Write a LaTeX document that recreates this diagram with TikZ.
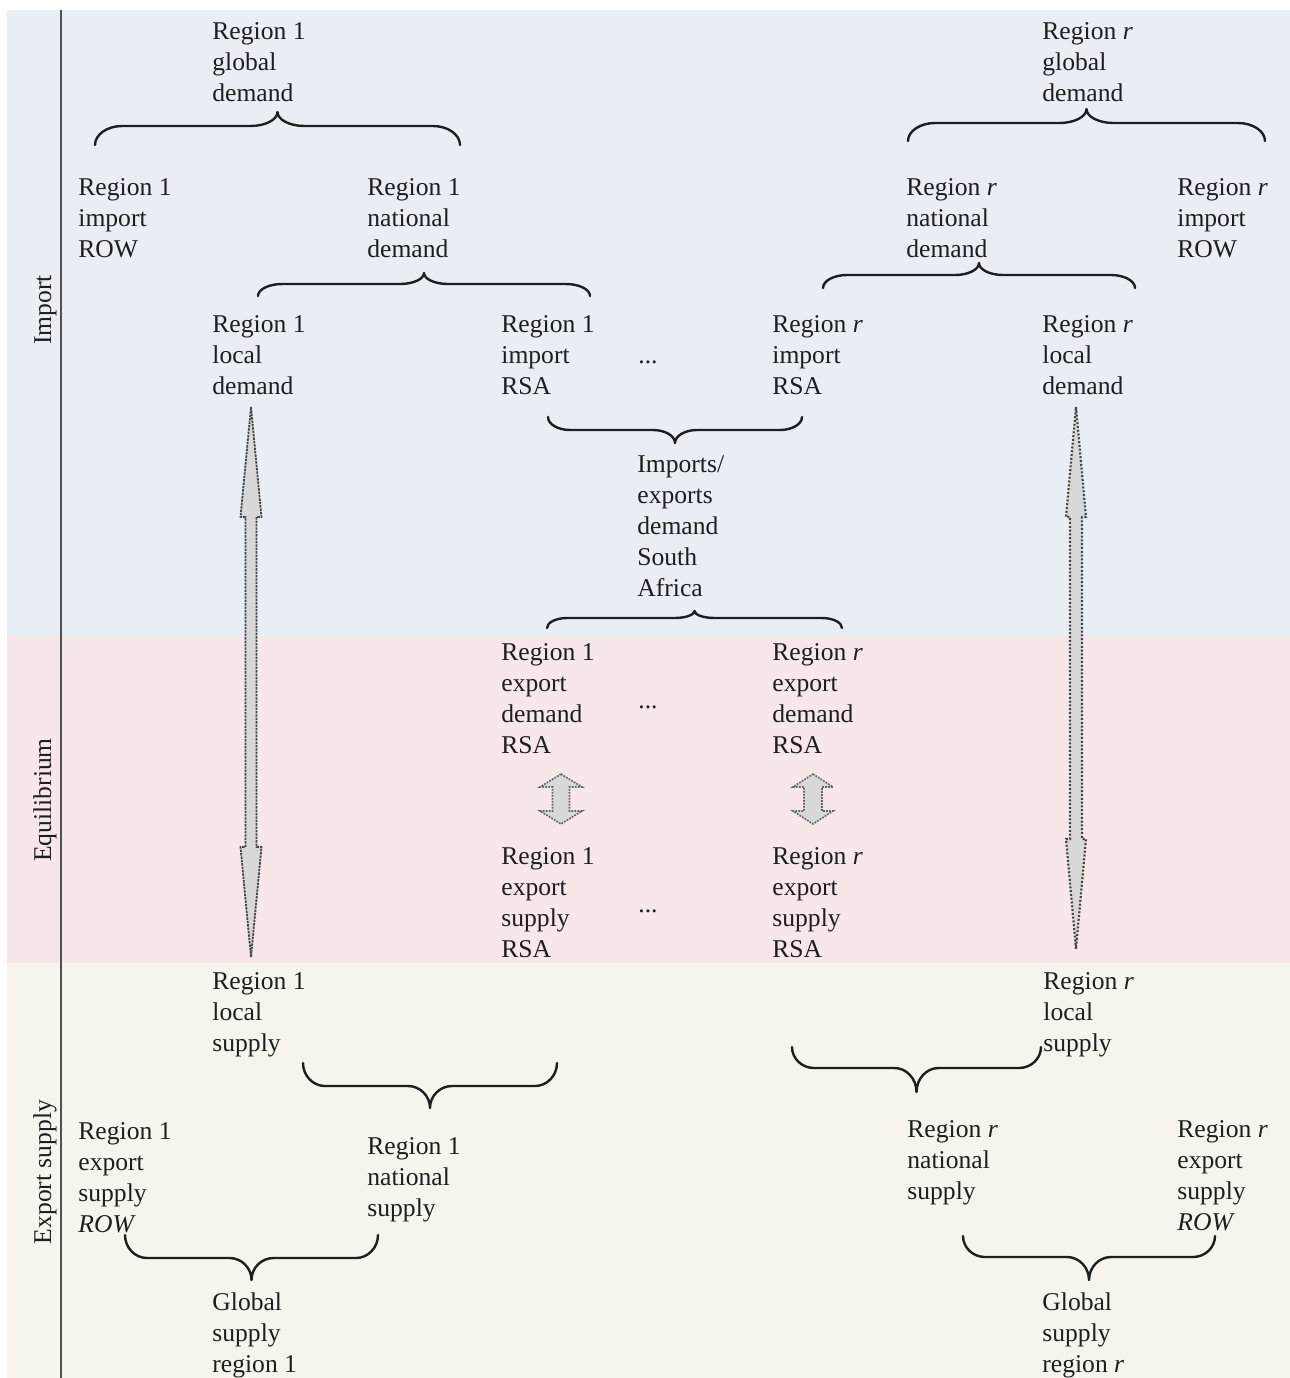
\documentclass[tikz,border=0pt]{standalone}
\usepackage{fontspec}
\setmainfont{Liberation Serif}
\usetikzlibrary{calc}
\definecolor{bandblue}{RGB}{233,238,245}
\definecolor{bandpink}{RGB}{247,231,232}
\definecolor{bandbeige}{RGB}{246,244,236}
\definecolor{ink}{RGB}{30,30,30}
\definecolor{axisgray}{RGB}{80,80,80}
\definecolor{arrfill}{RGB}{216,216,216}
\definecolor{arrline}{RGB}{70,70,70}
\newcommand\DblArrow[6]{%
  \draw[#6] (#1) -- ($(#1)+(#4,#3)$) -- ($(#1)+(#5,#3)$) -- ($(#2)+(#5,-#3)$) -- ($(#2)+(#4,-#3)$) -- (#2)
    -- ($(#2)+(-#4,-#3)$) -- ($(#2)+(-#5,-#3)$) -- ($(#1)+(-#5,#3)$) -- ($(#1)+(-#4,#3)$) -- cycle;}
% #1 left end, #2 right end, #3 depth of the line (signed), #4 extra depth of the tip (signed), #5 curl width
\newcommand\MyBrace[5]{%
  \coordinate (#1#2m) at ($(#1)!0.5!(#2)$);
  \draw[brcline] (#1) .. controls ($(#1)+(0,{0.55*(#3)})$) and ($(#1)+({0.45*(#5)},#3)$) .. ($(#1)+(#5,#3)$)
   -- ($(#1#2m)+({-(#5)},#3)$) .. controls ($(#1#2m)+({-0.45*(#5)},#3)$) and ($(#1#2m)+(0,{(#3)+0.45*(#4)})$) .. ($(#1#2m)+(0,{(#3)+(#4)})$)
   .. controls ($(#1#2m)+(0,{(#3)+0.45*(#4)})$) and ($(#1#2m)+({0.45*(#5)},#3)$) .. ($(#1#2m)+(#5,#3)$)
   -- ($(#2)+({-(#5)},#3)$) .. controls ($(#2)+({-0.45*(#5)},#3)$) and ($(#2)+(0,{0.55*(#3)})$) .. (#2);}
\begin{document}
\begin{tikzpicture}[x=0.5pt,y=-0.5pt,
  txt/.style={anchor=north west, align=left, inner sep=0pt, text=ink, font=\fontsize{12.8}{15.5}\selectfont},
  dots/.style={anchor=base west, inner sep=0pt, text=ink, font=\fontsize{12.8}{15.5}\selectfont},
  sidelbl/.style={rotate=90, anchor=base, inner sep=0pt, text=ink, font=\fontsize{12.8}{15.5}\selectfont},
  brcline/.style={draw=ink, line width=1.2pt, line cap=round, line join=round},
  arrL/.style={fill=arrfill, draw=arrline, line width=0.9pt, dash pattern=on 1.2pt off 0.5pt},
  arrR/.style={fill=arrfill, draw=arrline, line width=1.1pt, dash pattern=on 1pt off 0.9pt},
  arrS/.style={fill=arrfill, draw=arrline!85, line width=0.8pt, dash pattern=on 0.9pt off 0.6pt},
  axisline/.style={draw=axisgray, line width=1pt}]
\useasboundingbox (0,0) rectangle (1290,1378);
% backgrounds
\fill[white] (0,0) rectangle (1290,1378);
\fill[bandblue] (7,10) rectangle (1290,637);
\fill[bandpink] (7,637) rectangle (1290,963);
\fill[bandbeige] (7,963) rectangle (1290,1378);
% axis
\coordinate (vtop) at (61,10);
\coordinate (vbot) at (61,1378);
\draw[axisline] (vtop) -- (vbot);
\node[sidelbl] (lblimp) at (51,310) {Import};
\node[sidelbl] (lbleq) at (51,800) {Equilibrium};
\node[sidelbl] (lblexp) at (51,1172) {Export supply};
% text nodes
\node[txt] (g1d) at (212,22.5) {Region 1\\global\\demand};
\node[txt] (grd) at (1042,22.5) {Region \textit{r}\\global\\demand};
\node[txt] (i1row) at (78,178.5) {Region 1\\import\\ROW};
\node[txt] (n1d) at (367,178.5) {Region 1\\national\\demand};
\node[txt] (nrd) at (906,178.5) {Region \textit{r}\\national\\demand};
\node[txt] (irrow) at (1177,178.5) {Region \textit{r}\\import\\ROW};
\node[txt] (l1d) at (212,315.5) {Region 1\\local\\demand};
\node[txt] (i1rsa) at (501,315.5) {Region 1\\import\\RSA};
\node[dots] (dt1) at (638,363) {...};
\node[txt] (irrsa) at (772,315.5) {Region \textit{r}\\import\\RSA};
\node[txt] (lrd) at (1042,315.5) {Region \textit{r}\\local\\demand};
\node[txt] (ie) at (637,455.5) {Imports/\\exports\\demand\\South\\Africa};
\node[txt] (e1d) at (501,643.5) {Region 1\\export\\demand\\RSA};
\node[dots] (dt2) at (638,708) {...};
\node[txt] (erd) at (772,643.5) {Region \textit{r}\\export\\demand\\RSA};
\node[txt] (s1) at (501,847.5) {Region 1\\export\\supply\\RSA};
\node[dots] (dt3) at (638,912) {...};
\node[txt] (sr) at (772,847.5) {Region \textit{r}\\export\\supply\\RSA};
\node[txt] (l1s) at (212,972.5) {Region 1\\local\\supply};
\node[txt] (lrs) at (1043,972.5) {Region \textit{r}\\local\\supply};
\node[txt] (x1row) at (78,1122.5) {Region 1\\export\\supply\\\textit{ROW}};
\node[txt] (n1s) at (367,1137.5) {Region 1\\national\\supply};
\node[txt] (nrs) at (907,1120.5) {Region \textit{r}\\national\\supply};
\node[txt] (xrrow) at (1177,1120.5) {Region \textit{r}\\export\\supply\\\textit{ROW}};
\node[txt] (gs1) at (212,1292.5) {Global\\supply\\region 1};
\node[txt] (gsr) at (1042,1292.5) {Global\\supply\\region \textit{r}};
% brace end points
\coordinate (b1a) at (95,145);   \coordinate (b1b) at (460,145);
\coordinate (b2a) at (908,141);  \coordinate (b2b) at (1265,141);
\coordinate (b3a) at (258,296);  \coordinate (b3b) at (590,296);
\coordinate (b4a) at (823,288);  \coordinate (b4b) at (1135,288);
\coordinate (b5a) at (548,417);  \coordinate (b5b) at (802,417);
\coordinate (b6a) at (547,628);  \coordinate (b6b) at (842,628);
\coordinate (b7a) at (303,1063); \coordinate (b7b) at (557,1063);
\coordinate (b8a) at (792,1047); \coordinate (b8b) at (1041,1047);
\coordinate (b9a) at (125,1235); \coordinate (b9b) at (378,1235);
\coordinate (b10a) at (963,1236); \coordinate (b10b) at (1215,1236);
% braces
\MyBrace{b1a}{b1b}{-19}{-14}{27}
\MyBrace{b2a}{b2b}{-18}{-14}{27}
\MyBrace{b3a}{b3b}{-12}{-11}{24}
\MyBrace{b4a}{b4b}{-13}{-12}{24}
\MyBrace{b5a}{b5b}{13}{13}{22}
\MyBrace{b6a}{b6b}{-10}{-7}{20}
\MyBrace{b7a}{b7b}{23}{22}{22}
\MyBrace{b8a}{b8b}{21}{24}{22}
\MyBrace{b9a}{b9b}{23}{22}{22}
\MyBrace{b10a}{b10b}{21}{23}{22}
% arrows
\coordinate (aLt) at (251,407);  \coordinate (aLb) at (251,957);
\coordinate (aRt) at (1076,407); \coordinate (aRb) at (1076,949);
\coordinate (aS1t) at (561,774); \coordinate (aS1b) at (561,824);
\coordinate (aS2t) at (813,774); \coordinate (aS2b) at (813,824);
\DblArrow{aLt}{aLb}{110}{10.5}{5.5}{arrL}
\DblArrow{aRt}{aRb}{110}{10}{6}{arrR}
\DblArrow{aS1t}{aS1b}{13}{21}{8.5}{arrS}
\DblArrow{aS2t}{aS2b}{13}{20}{9}{arrS}
\end{tikzpicture}
\end{document}
